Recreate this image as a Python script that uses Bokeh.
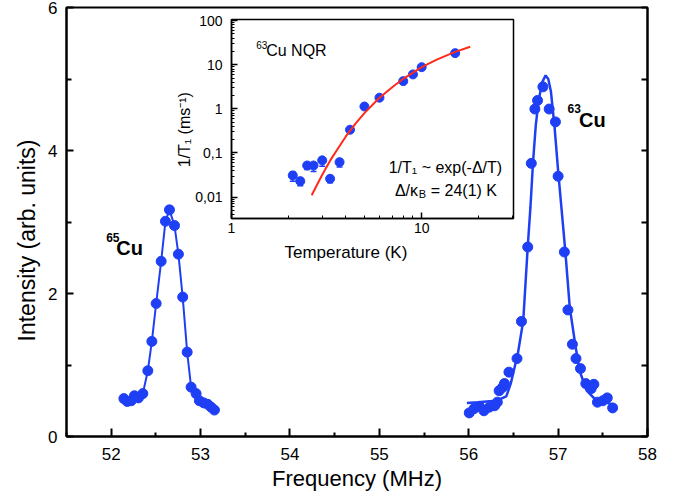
import math
from bokeh.plotting import figure
from bokeh.layouts import column
from bokeh.models import (ColumnDataSource, FixedTicker, LinearAxis, Range1d, Label,
                          Whisker, TeeHead, GridBox, CustomJSTickFormatter)
from bokeh.embed import file_html
from bokeh.resources import INLINE

# ---------------- data ----------------
cu65_freq = [52.142, 52.179, 52.224, 52.260, 52.305, 52.354, 52.410, 52.455, 52.503, 52.559,
             52.607, 52.652, 52.708, 52.752, 52.800, 52.850, 52.894, 52.950, 52.987, 53.036,
             53.080, 53.118, 53.155]
cu65_int = [0.53, 0.49, 0.50, 0.57, 0.54, 0.60, 0.92, 1.33, 1.86, 2.45,
            3.01, 3.17, 2.95, 2.55, 1.95, 1.18, 0.69, 0.60, 0.50, 0.47,
            0.45, 0.41, 0.37]

cu63_freq = [56.006, 56.06, 56.12, 56.17, 56.23, 56.29, 56.32, 56.34, 56.38, 56.40,
             56.45, 56.54, 56.59, 56.66, 56.70, 56.74, 56.77, 56.83, 56.90, 56.97,
             57.00, 57.07, 57.11, 57.16, 57.20, 57.25, 57.31, 57.37, 57.40, 57.44,
             57.50, 57.55, 57.61]
cu63_int = [0.33, 0.39, 0.42, 0.36, 0.41, 0.43, 0.48, 0.64, 0.69, 0.74,
            0.90, 1.09, 1.61, 2.65, 3.82, 4.58, 4.70, 4.89, 4.58, 4.40,
            3.64, 2.58, 1.77, 1.29, 1.09, 0.95, 0.74, 0.67, 0.73, 0.48,
            0.50, 0.54, 0.40]

cu63_fit_freq = [55.98, 56.10, 56.20, 56.31, 56.42, 56.47, 56.51, 56.55, 56.61, 56.66,
                 56.69, 56.72, 56.75, 56.78, 56.82, 56.86, 56.89, 56.92, 56.96, 57.00,
                 57.04, 57.08, 57.13, 57.19, 57.24, 57.32, 57.43, 57.58, 57.64]
cu63_fit_int = [0.47, 0.48, 0.49, 0.50, 0.56, 0.74, 0.95, 1.16, 1.62, 2.65,
                3.20, 3.85, 4.35, 4.68, 4.95, 5.05, 5.00, 4.82, 4.33, 3.72,
                3.16, 2.60, 1.81, 1.30, 0.92, 0.64, 0.50, 0.46, 0.43]

t1_temp = [2.1, 2.3, 2.5, 2.7, 3.0, 3.3, 3.7, 4.2, 5.0, 6.0, 8.0, 9.0, 10.0, 15.0]
t1_rate = [0.031, 0.023, 0.052, 0.052, 0.068, 0.026, 0.062, 0.336, 1.13, 1.79, 4.25, 6.03, 8.8, 18.3]
t1_err_lo = [0.008, 0.005, 0.010, 0.014, 0.018, 0.005, 0.014, 0, 0, 0, 0, 0, 0, 0]
t1_err_hi = [0.006, 0.004, 0.008, 0.008, 0.010, 0.004, 0.010, 0, 0, 0, 0, 0, 0, 0]

fit_temp = [2.64, 2.8, 3.0, 3.3, 3.6, 4.0, 4.5, 5.0, 6.0, 7.0, 8.0, 10.0, 12.0, 15.0, 18.0]
fit_rate = [0.011, 0.018, 0.032, 0.067, 0.12, 0.24, 0.47, 0.80, 1.78, 3.1, 4.8, 8.8, 13.1, 19.6, 25.6]

x_ticks = [52, 53, 54, 55, 56, 57, 58]
x_minor = [51.5, 52.5, 53.5, 54.5, 55.5, 56.5, 57.5]
y_ticks = [0, 2, 4, 6]
y_minor = [1, 3, 5]
y_right_ticks = [0, 1, 2, 3, 4, 5, 6]

ins_x_ticks = [1, 10]
ins_x_minor = [2, 3, 4, 5, 6, 7, 8, 9, 20, 30]
ins_y_ticks = [0.01, 0.1, 1, 10, 100]
ins_y_minor = [0.004, 0.005, 0.006, 0.007, 0.008, 0.009,
               0.02, 0.03, 0.04, 0.05, 0.06, 0.07, 0.08, 0.09,
               0.2, 0.3, 0.4, 0.5, 0.6, 0.7, 0.8, 0.9,
               2, 3, 4, 5, 6, 7, 8, 9,
               20, 30, 40, 50, 60, 70, 80, 90]

BLUE = "#1f3ff5"
RED = "#ff2a1a"
FONT = "Liberation Sans"

# ---------------- main figure ----------------
p = figure(width=684, height=504, x_range=Range1d(51.5, 58), y_range=Range1d(0, 6),
           output_backend="svg", toolbar_location=None,
           min_border_left=66, min_border_right=37, min_border_top=7, min_border_bottom=68)
p.grid.visible = False
p.outline_line_color = "black"
p.outline_line_width = 2
p.background_fill_color = "white"
p.border_fill_color = "white"

for ax in (p.xaxis[0], p.yaxis[0]):
    ax.axis_line_width = 2
    ax.axis_line_color = "black"
    ax.major_tick_line_color = "black"
    ax.minor_tick_line_color = "black"
    ax.major_tick_line_width = 2
    ax.minor_tick_line_width = 2
    ax.major_tick_out = 0
    ax.minor_tick_out = 0
    ax.major_label_text_font = FONT
    ax.major_label_text_font_size = "17px"
    ax.major_label_text_color = "black"
    ax.axis_label_text_font = FONT
    ax.axis_label_text_font_size = "22px"
    ax.axis_label_text_font_style = "normal"
    ax.axis_label_text_color = "black"

p.xaxis.ticker = FixedTicker(ticks=x_ticks, minor_ticks=x_minor)
p.xaxis.major_tick_in = 8
p.xaxis.minor_tick_in = 4
p.xaxis.major_label_standoff = 11
p.xaxis.axis_label_standoff = 3
p.xaxis.axis_label = "Frequency (MHz)"

p.yaxis.ticker = FixedTicker(ticks=y_ticks, minor_ticks=y_minor)
p.yaxis.major_tick_in = 7
p.yaxis.minor_tick_in = 5
p.yaxis.major_label_standoff = 9

right_axis = LinearAxis(ticker=FixedTicker(ticks=y_right_ticks, minor_ticks=[]),
                        major_label_overrides={t: "" for t in y_right_ticks},
                        axis_line_width=2, axis_line_color="black",
                        major_tick_in=6, major_tick_out=0, major_tick_line_width=2,
                        minor_tick_in=0, minor_tick_out=0)
p.add_layout(right_axis, "right")

p.line(cu65_freq, cu65_int, line_color=BLUE, line_width=2)
p.scatter(cu65_freq, cu65_int, size=10, fill_color=BLUE, line_color=BLUE)
p.scatter(cu63_freq, cu63_int, size=10, fill_color=BLUE, line_color=BLUE)
p.line(cu63_fit_freq, cu63_fit_int, line_color=BLUE, line_width=2.5)

p.add_layout(Label(x=51.944, y=2.78, text="65", text_font=FONT, text_font_size="12px",
                   text_font_style="bold", text_color="black", text_baseline="alphabetic"))
p.add_layout(Label(x=52.056, y=2.63, text="Cu", text_font=FONT, text_font_size="20px",
                   text_font_style="bold", text_color="black", text_baseline="alphabetic"))
p.add_layout(Label(x=57.106, y=4.59, text="63", text_font=FONT, text_font_size="12px",
                   text_font_style="bold", text_color="black", text_baseline="alphabetic"))
p.add_layout(Label(x=57.235, y=4.42, text="Cu", text_font=FONT, text_font_size="20px",
                   text_font_style="bold", text_color="black", text_baseline="alphabetic"))

# ---------------- inset ----------------
ins = figure(frame_width=282, frame_height=199, x_axis_type="log", y_axis_type="log",
             x_range=Range1d(1, 30.4), y_range=Range1d(0.00327, 106),
             output_backend="svg", toolbar_location=None,
             min_border_left=66, min_border_right=5, min_border_top=7, min_border_bottom=60)
ins.grid.visible = False
ins.outline_line_color = "black"
ins.outline_line_width = 1.5
ins.background_fill_color = "white"
ins.border_fill_alpha = 0
ins.border_fill_color = None

for ax in (ins.xaxis[0], ins.yaxis[0]):
    ax.axis_line_width = 1.5
    ax.axis_line_color = "black"
    ax.major_tick_line_color = "black"
    ax.minor_tick_line_color = "black"
    ax.major_tick_line_width = 1.5
    ax.minor_tick_line_width = 1
    ax.major_tick_out = 0
    ax.minor_tick_out = 0
    ax.major_tick_in = 6
    ax.minor_tick_in = 3
    ax.major_label_text_font = FONT
    ax.major_label_text_font_size = "14px"
    ax.major_label_text_color = "black"

ins.xaxis.ticker = FixedTicker(ticks=ins_x_ticks, minor_ticks=ins_x_minor)
ins.xaxis.major_label_standoff = 4
ins.xaxis.formatter = CustomJSTickFormatter(code="return String(tick);")

ins.yaxis.ticker = FixedTicker(ticks=ins_y_ticks, minor_ticks=ins_y_minor)
ins.yaxis.major_label_standoff = 9
ins.yaxis.formatter = CustomJSTickFormatter(code="return String(tick).replace('.', ',');")

err_idx = [i for i in range(len(t1_temp)) if t1_err_lo[i] > 0]
wsrc = ColumnDataSource(dict(
    base=[t1_temp[i] for i in err_idx],
    lower=[t1_rate[i] - t1_err_lo[i] for i in err_idx],
    upper=[t1_rate[i] + t1_err_hi[i] for i in err_idx]))
ins.add_layout(Whisker(source=wsrc, base="base", lower="lower", upper="upper",
                       line_color=BLUE, line_width=1.5, level="glyph",
                       lower_head=TeeHead(size=6, line_color=BLUE, line_width=1.5),
                       upper_head=TeeHead(size=6, line_color=BLUE, line_width=1.5)))
ins.scatter(t1_temp, t1_rate, size=9, fill_color=BLUE, line_color=BLUE)
ins.line(fit_temp, fit_rate, line_color=RED, line_width=2)

ins.add_layout(Label(x=1.349, y=27.4, text="63", text_font=FONT, text_font_size="10px",
                     text_color="black", text_baseline="alphabetic"))
ins.add_layout(Label(x=1.522, y=21.1, text="Cu NQR", text_font=FONT, text_font_size="16px",
                     text_color="black", text_baseline="alphabetic"))
ins.add_layout(Label(x=26.5, y=0.0476, text="1/T\u2081 ~ exp(-\u0394/T)", text_font=FONT,
                     text_font_size="16px", text_color="black", text_align="right",
                     text_baseline="alphabetic"))
ins.add_layout(Label(x=24.9, y=0.01416, text="= 24(1) K", text_font=FONT,
                     text_font_size="16px", text_color="black", text_align="right",
                     text_baseline="alphabetic"))
ins.add_layout(Label(x=24.9, y=0.01416, x_offset=-71, y_offset=-4, text="B", text_font=FONT,
                     text_font_size="11px", text_color="black", text_align="right",
                     text_baseline="alphabetic"))
ins.add_layout(Label(x=24.9, y=0.01416, x_offset=-79, text="\u0394/\u03ba", text_font=FONT,
                     text_font_size="16px", text_color="black", text_align="right",
                     text_baseline="alphabetic"))

# ---------------- transparent page-sized layer for the axis titles ----------------
top = figure(width=684, height=504, x_range=Range1d(0, 684), y_range=Range1d(504, 0),
             output_backend="svg", toolbar_location=None,
             x_axis_location=None, y_axis_location=None,
             min_border_left=0, min_border_right=0, min_border_top=0, min_border_bottom=0)
top.grid.visible = False
top.outline_line_color = None
top.background_fill_alpha = 0
top.background_fill_color = None
top.border_fill_alpha = 0
top.border_fill_color = None

top.add_layout(Label(x=26, y=240, text="Intensity (arb. units)", angle=math.pi / 2,
                     text_font=FONT, text_font_size="23px", text_color="black",
                     text_align="center", text_baseline="middle"))
top.add_layout(Label(x=284, y=252, text="Temperature  (K)", text_font=FONT,
                     text_font_size="17px", text_color="black", text_baseline="alphabetic"))
top.add_layout(Label(x=184, y=127, text="1/T\u2081  (ms\u207b\u00b9)", angle=math.pi / 2,
                     text_font=FONT, text_font_size="16px", text_color="black",
                     text_align="center", text_baseline="middle"))

c_main = column(p)
c_ins = column(ins)
c_ins.margin = (12, 0, 0, 165)
c_top = column(top)

layout = GridBox(children=[(c_main, 0, 0), (c_ins, 0, 0), (c_top, 0, 0)])

open("out.html", "w").write(file_html(layout, INLINE))
